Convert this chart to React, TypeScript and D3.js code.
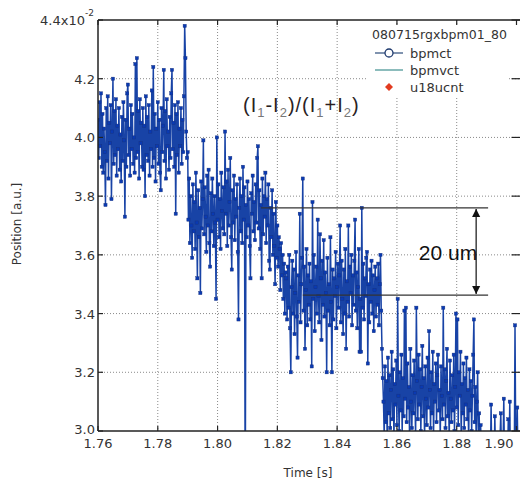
import React from "react";
import * as d3 from "d3";

// sample timing of the bpmct trace
const T0 = 1.76;
const DT = 0.00025;

// bpmct values (x10^-2), one list per plateau
const plateau1 = [
  4.06, 3.93, 4.12, 3.97, 4.15, 3.9, 4.08, 3.88, 4.03, 3.95,
  3.77, 4.1, 3.92, 4.14, 3.86, 4.05, 3.98, 4.11, 3.79, 4.02,
  4.2, 3.91, 4.09, 3.94, 4.13, 3.87, 4.04, 3.96, 4.1, 3.89,
  4.01, 3.85, 4.07, 3.92, 4.12, 3.99, 3.73, 4.06, 3.9, 4.15,
  4.18, 3.94, 4.03, 3.87, 4.11, 3.96, 4.08, 3.91, 4.0, 3.88,
  4.25, 3.93, 4.27, 3.95, 4.09, 3.86, 4.13, 3.98, 4.05, 3.9,
  4.1, 3.89, 4.04, 3.8, 4.14, 3.94, 4.07, 3.92, 4.11, 3.87,
  4.02, 3.96, 4.16, 3.9, 4.24, 3.93, 4.08, 3.85, 4.03, 3.97,
  4.12, 3.91, 4.06, 3.88, 3.82, 4.1, 3.95, 4.04, 4.23, 3.92,
  4.09, 3.86, 4.13, 3.97, 4.02, 3.89, 4.07, 3.93, 4.15, 4.23,
  3.96, 4.05, 3.9, 4.11, 3.74, 4.08, 3.94, 4.12, 3.88, 4.03,
  3.97, 4.1, 3.91, 4.06, 3.95, 4.14, 4.38, 4.27, 4.02, 3.93,
];
const plateau2 = [
  3.95, 3.72, 3.86, 3.64, 3.8, 3.7, 3.59, 3.84, 3.68, 3.78,
  3.62, 3.88, 3.71, 3.52, 3.82, 3.66, 3.76, 3.47, 3.85, 3.69,
  3.79, 3.99, 3.67, 3.83, 3.73, 3.61, 3.87, 3.7, 3.89, 3.64,
  3.56, 3.81, 3.68, 3.86, 3.74, 3.63, 3.8, 3.71, 3.45, 4.0,
  3.72, 3.84, 3.66, 3.79, 3.62, 3.88, 3.75, 3.69, 3.83, 3.67,
  4.02, 3.74, 3.85, 3.63, 3.89, 3.7, 3.78, 3.93, 3.66, 3.55,
  3.82, 3.71, 3.87, 3.65, 3.79, 3.73, 3.84, 3.61, 3.38, 3.76,
  3.86, 3.68, 3.8, 3.64, 3.9, 3.72, 3.83, 2.7, 3.77, 3.66,
  3.85, 3.7, 3.79, 3.63, 3.52, 3.81, 3.74, 3.87, 3.68, 3.78,
  3.65, 3.84, 3.71, 3.93, 3.97, 3.69, 3.82, 3.62, 3.77, 3.52,
  3.86, 3.67, 3.8, 3.73, 3.88, 3.64, 3.79, 3.7, 3.84, 3.58,
  3.55, 3.76, 3.66, 3.82, 3.6, 3.74, 3.63, 3.5, 3.78, 3.59,
  3.7, 3.56, 3.66, 3.62, 3.48, 3.64, 3.53, 3.6, 3.45, 3.57, 3.4, 3.54,
];
const plateau3 = [
  3.52, 3.38, 3.56, 3.42, 3.6, 3.35, 3.2, 3.49, 3.58, 3.4,
  3.55, 3.33, 3.47, 3.61, 3.39, 3.25, 3.53, 3.44, 3.74, 3.37,
  3.5, 3.59, 3.86, 3.41, 3.56, 3.28, 3.48, 3.62, 3.36, 3.53,
  3.43, 3.57, 3.38, 3.51, 3.22, 3.78, 3.45, 3.6, 3.34, 3.49,
  3.56, 3.4, 3.72, 3.46, 3.37, 3.67, 3.52, 3.31, 3.58, 3.43,
  3.65, 3.39, 3.54, 3.47, 3.2, 3.59, 3.41, 3.5, 3.36, 3.66,
  3.44, 3.2, 3.55, 3.38, 3.52, 3.46, 3.61, 3.35, 3.49, 3.57,
  3.42, 3.53, 3.7, 3.37, 3.58, 3.45, 3.33, 3.55, 3.4, 3.62,
  3.28, 3.51, 3.44, 3.7, 3.39, 3.56, 3.47, 3.6, 3.36, 3.53,
  3.43, 3.58, 3.72, 3.41, 3.54, 3.35, 3.49, 3.62, 3.27, 3.45,
  3.27, 3.76, 3.42, 3.57, 3.38, 3.52, 3.46, 3.59, 3.61, 3.23,
  3.5, 3.37, 3.55, 3.44, 3.58, 3.4, 3.53, 3.34, 3.48, 3.56,
  3.39, 3.52, 3.43, 3.57, 3.36, 3.5, 3.6, 3.41, 3.28, 3.18,
];
const plateau4 = [
  3.1, 2.98, 3.22, 3.03, 3.17, 2.96, 3.25, 3.06, 3.19, 3.01,
  3.14, 3.27, 3.04, 3.21, 2.97, 3.16, 3.09, 3.24, 3.02, 3.45,
  3.12, 3.0, 3.2, 3.07, 3.26, 2.99, 3.18, 3.05, 3.41, 3.11,
  3.42, 3.03, 3.23, 3.08, 3.15, 2.96, 3.28, 3.1, 3.01, 3.19,
  3.06, 3.24, 3.13, 2.98, 3.42, 3.17, 3.04, 3.26, 3.09, 3.21,
  3.0, 3.15, 3.29, 3.05, 3.18, 2.97, 3.22, 3.11, 3.02, 3.25,
  3.08, 3.34, 3.14, 3.01, 3.2, 3.06, 3.27, 2.99, 3.16, 3.1,
  3.23, 3.03, 3.19, 3.26, 3.07, 3.14, 2.98, 3.22, 3.12, 3.04,
  3.42, 3.09, 3.21, 3.01, 3.17, 3.28, 3.05, 3.13, 2.97, 3.24,
  3.11, 3.03, 3.19, 3.07, 3.26, 3.0, 3.15, 3.4, 3.08, 3.38,
  3.02, 3.2, 3.12, 3.27, 2.98, 3.16, 3.06, 3.23, 3.01, 3.18,
  3.09, 3.25, 3.04, 3.14, 2.96, 3.21, 3.07, 3.17, 3.0, 3.12,
  3.26, 3.38, 3.03, 3.15, 2.98, 3.1, 3.2, 2.97, 3.06, 2.95, 3.02, 2.93, 2.99, 2.91,
];
const plateau5 = [
  2.9, 2.86, 2.94, 2.88, 2.97, 2.85, 2.92, 2.89, 2.95, 2.87,
  3.09, 2.9, 2.86, 2.93, 2.88, 3.05, 2.91, 2.84, 2.96, 2.89,
  2.93, 2.86, 2.98, 3.06, 2.9, 2.85, 2.94, 3.11, 2.88, 2.92,
  2.87, 2.95, 2.89, 3.04, 2.91, 3.1, 2.86, 2.93, 2.97, 2.88,
  2.92, 2.86, 3.36, 2.95, 2.89, 3.08, 2.9, 2.87,
];

const xTickValues = [1.76, 1.78, 1.8, 1.82, 1.84, 1.86, 1.88, 1.9];
const xTickLabels = ["1.76", "1.78", "1.80", "1.82", "1.84", "1.86", "1.88", "1.90"];
const yTickValues = [3.0, 3.2, 3.4, 3.6, 3.8, 4.0, 4.2, 4.4];
const yTickLabels = ["3.0", "3.2", "3.4", "3.6", "3.8", "4.0", "4.2", "4.4"];

const legendTitle = "080715rgxbpm01_80";
const legendNames = ["bpmct", "bpmvct", "u18ucnt"];

// step annotation
const stepUpper = 3.76;
const stepLower = 3.463;
const stepUpperStart = 1.8145;
const stepLowerStart = 1.8285;
const stepEnd = 1.8905;
const stepArrowAt = 1.8865;
const stepLabel = "20 um";

const W = 520;
const H = 483;
const M = { left: 98, right: 3.5, top: 20, bottom: 52 };

export default function App() {
  const values = [...plateau1, ...plateau2, ...plateau3, ...plateau4, ...plateau5];
  const data = values.map((v, i) => ({ t: T0 + i * DT, v }));

  const x = d3.scaleLinear().domain([1.76, 1.9]).range([M.left, W - M.right]);
  const y = d3.scaleLinear().domain([3.0, 4.4]).range([H - M.bottom, M.top]);
  const line = d3
    .line<{ t: number; v: number }>()
    .x((d) => x(d.t))
    .y((d) => y(d.v));

  const x0 = x.range()[0];
  const x1 = x.range()[1];
  const y0 = y.range()[0];
  const y1 = y.range()[1];
  const font = "DejaVu Sans, Verdana, sans-serif";
  const tickColor = "#333";

  return (
    <svg
      width={W}
      height={H}
      style={{ position: "absolute", left: 0, top: 0, background: "#fff" }}
    >
      <defs>
        <clipPath id="plotclip">
          <rect x={x0} y={y1} width={x1 - x0 + 4} height={y0 - y1} />
        </clipPath>
        <marker id="ah" viewBox="0 0 10 10" refX="10" refY="5" markerWidth="7" markerHeight="9" orient="auto-start-reverse">
          <path d="M0,0 L10,5 L0,10 z" fill="#111" />
        </marker>
      </defs>
      <rect x={0} y={0} width={W} height={H} fill="#fff" />

      {/* grid */}
      {xTickValues.slice(1, -1).map((t) => (
        <line key={"gx" + t} x1={x(t)} x2={x(t)} y1={y1} y2={y0} stroke="#8a8a8a" strokeWidth={1} strokeDasharray="1,2" />
      ))}
      {yTickValues.slice(1, -1).map((v) => (
        <line key={"gy" + v} x1={x0} x2={x1 + 4} y1={y(v)} y2={y(v)} stroke="#8a8a8a" strokeWidth={1} strokeDasharray="1,2" />
      ))}

      {/* legend box background */}
      <rect x={366} y={26} width={143} height={70} fill="#fff" />

      {/* data */}
      <g clipPath="url(#plotclip)">
        <path d={line(data) || ""} fill="none" stroke="#1843a6" strokeWidth={1.5} />
        {data.map((d, i) => (
          <rect key={i} x={x(d.t) - 1.6} y={y(d.v) - 1.6} width={3.2} height={3.2} fill="#0a3ab2" stroke="#18307a" strokeWidth={0.4} />
        ))}
      </g>

      {/* frame */}
      <line x1={x0} x2={x0} y1={y1} y2={y0} stroke="#222" strokeWidth={1.5} />
      <line x1={x0} x2={x1 + 4} y1={y0} y2={y0} stroke="#222" strokeWidth={1.5} />
      <line x1={x0} x2={x1 + 4} y1={y1} y2={y1} stroke="#222" strokeWidth={1.5} />

      {/* ticks */}
      {xTickValues.map((t) => (
        <g key={"tx" + t}>
          <line x1={x(t)} x2={x(t)} y1={y0} y2={y0 - 5} stroke="#222" strokeWidth={1.2} />
          <line x1={x(t)} x2={x(t)} y1={y1} y2={y1 + 5} stroke="#222" strokeWidth={1.2} />
        </g>
      ))}
      {yTickValues.map((v) => (
        <g key={"ty" + v}>
          <line x1={x0} x2={x0 + 5} y1={y(v)} y2={y(v)} stroke="#222" strokeWidth={1.2} />
          <line x1={x1 - 5} x2={x1 + 4} y1={y(v)} y2={y(v)} stroke="#222" strokeWidth={1.2} />
        </g>
      ))}

      {/* tick labels */}
      {xTickValues.map((t, i) => {
        const last = i === xTickValues.length - 1;
        return (
          <text
            key={"lx" + t}
            x={last ? x(t) - 3 : x(t)}
            y={y0 + 17}
            textAnchor={last ? "end" : "middle"}
            fontFamily={font}
            fontSize={13}
            fill={tickColor}
          >
            {xTickLabels[i]}
          </text>
        );
      })}
      {yTickValues.map((v, i) => {
        const top = i === yTickValues.length - 1;
        if (top) {
          return (
            <text key={"ly" + v} x={x0 - 4} y={y(v) + 5} textAnchor="end" fontFamily={font} fontSize={13} fill={tickColor}>
              {yTickLabels[i] + "x10"}
              <tspan fontSize={9} dy={-9}>
                -2
              </tspan>
            </text>
          );
        }
        return (
          <text key={"ly" + v} x={x0 - 3} y={i === 0 ? y(v) + 3 : y(v) + 5} textAnchor="end" fontFamily={font} fontSize={13} fill={tickColor}>
            {yTickLabels[i]}
          </text>
        );
      })}

      {/* axis titles */}
      <text x={308} y={477} textAnchor="middle" fontFamily={font} fontSize={12} fill={tickColor}>
        Time [s]
      </text>
      <text
        transform={`translate(21,224) rotate(-90)`}
        textAnchor="middle"
        fontFamily={font}
        fontSize={12}
        fill={tickColor}
      >
        Position [a.u.]
      </text>

      {/* formula annotation */}
      <text x={243} y={112} fontFamily="Liberation Sans, Arial, sans-serif" fontSize={20} letterSpacing={1} fill="#2b1f1f">
        (I
        <tspan fontSize={13} dy={5} fill="#777">1</tspan>
        <tspan dy={-5}>-I</tspan>
        <tspan fontSize={13} dy={5} fill="#777">2</tspan>
        <tspan dy={-5}>)/(I</tspan>
        <tspan fontSize={13} dy={5} fill="#777">1</tspan>
        <tspan dy={-5}>+I</tspan>
        <tspan fontSize={13} dy={5} fill="#777">2</tspan>
        <tspan dy={-5}>)</tspan>
      </text>

      {/* step annotation */}
      <line x1={x(stepUpperStart)} x2={x(stepEnd)} y1={y(stepUpper)} y2={y(stepUpper)} stroke="#333" strokeWidth={1.3} />
      <line x1={x(stepLowerStart)} x2={x(stepEnd)} y1={y(stepLower)} y2={y(stepLower)} stroke="#333" strokeWidth={1.3} />
      <line
        x1={x(stepArrowAt)}
        x2={x(stepArrowAt)}
        y1={y(stepUpper) + 1}
        y2={y(stepLower) - 1}
        stroke="#111"
        strokeWidth={1.2}
        markerStart="url(#ah)"
        markerEnd="url(#ah)"
      />
      <text x={448} y={260} textAnchor="middle" fontFamily="Liberation Sans, Arial, sans-serif" fontSize={21} fill="#111">
        {stepLabel}
      </text>

      {/* legend */}
      <text x={372} y={39} fontFamily={font} fontSize={12.5} fill="#333" textLength={135}>
        {legendTitle}
      </text>
      <line x1={375} x2={403} y1={53} y2={53} stroke="#2a4a7a" strokeWidth={1.2} />
      <circle cx={389} cy={53} r={4} fill="#fff" stroke="#1f3a6e" strokeWidth={1.3} />
      <text x={410} y={58} fontFamily={font} fontSize={13} fill="#333">
        {legendNames[0]}
      </text>
      <line x1={375} x2={403} y1={70} y2={70} stroke="#3f8f8f" strokeWidth={1.2} />
      <text x={410} y={75} fontFamily={font} fontSize={13} fill="#333">
        {legendNames[1]}
      </text>
      <path d="M389,83 L393,87 L389,91 L385,87 Z" fill="#e23b20" />
      <text x={410} y={92} fontFamily={font} fontSize={13} fill="#333">
        {legendNames[2]}
      </text>
    </svg>
  );
}
